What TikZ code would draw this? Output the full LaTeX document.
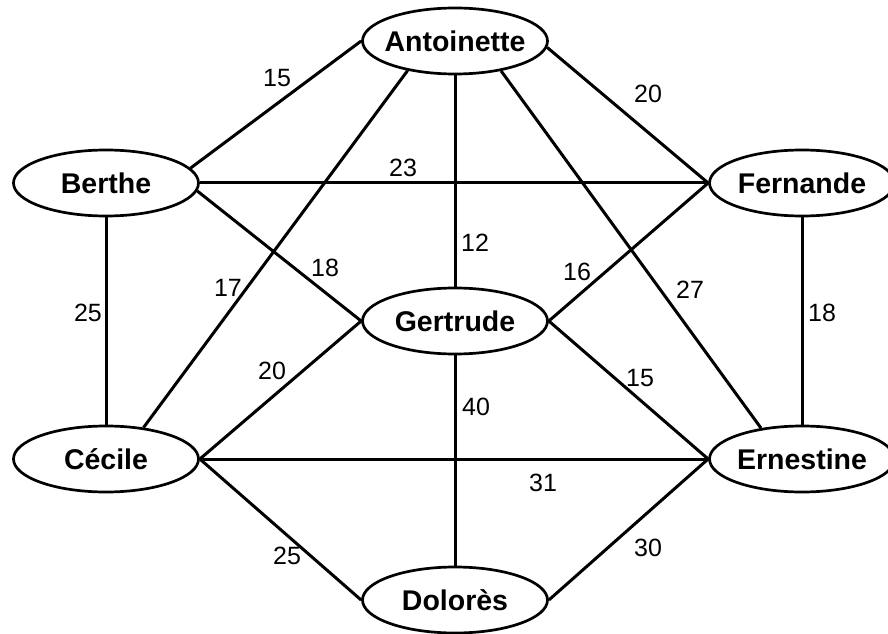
\documentclass[tikz,border=0pt]{standalone}
\usepackage{fontspec}
\setmainfont{Liberation Sans}
\usetikzlibrary{shapes.geometric}

\tikzset{
  person/.style={draw, ellipse, line width=2.7pt, minimum width=185pt, minimum height=66pt,
    inner ysep=0pt, inner xsep=-12pt, font=\bfseries\fontsize{28.5}{32}\selectfont},
  link/.style={line width=3pt},
  wt/.style={inner sep=0pt, font=\fontsize{25}{28}\selectfont}
}

\begin{document}
\begin{tikzpicture}[x=1pt,y=1pt]
    \useasboundingbox (0,0) rectangle (888,633);

    % the seven people
    \node[person] (antoinette) at (455,592) {Antoinette};
    \node[person] (berthe)     at (106,450) {Berthe};
    \node[person] (fernande)   at (802,450) {Fernande};
    \node[person] (gertrude)   at (455,312) {Gertrude};
    \node[person] (cecile)     at (106,174) {Cécile};
    \node[person] (ernestine)  at (802,174) {Ernestine};
    \node[person] (dolores)    at (455,33)  {Dolorès};

    % links
    \draw[link] (berthe.10) -- (antoinette.west);
    \draw[link] (antoinette.-4) -- (fernande.west);
    \draw[link] (berthe.east) -- (fernande.west);
    \draw[link] (antoinette.south) -- (gertrude.north);
    \draw[link] (antoinette.212) -- (cecile.40);
    \draw[link] (antoinette.-33) -- (ernestine.143);
    \draw[link] (berthe.-5) -- (gertrude.west);
    \draw[link] (fernande.west) -- (gertrude.east);
    \draw[link] (berthe.south) -- (cecile.north);
    \draw[link] (fernande.south) -- (ernestine.north);
    \draw[link] (gertrude.west) -- (cecile.east);
    \draw[link] (gertrude.east) -- (ernestine.west);
    \draw[link] (gertrude.south) -- (dolores.north);
    \draw[link] (cecile.east) -- (ernestine.west);
    \draw[link] (cecile.east) -- (dolores.west);
    \draw[link] (ernestine.west) -- (dolores.east);

    % weights
    \node[wt] (w-ab) at (277,555) {15};
    \node[wt] (w-af) at (648,539) {20};
    \node[wt] (w-bf) at (403,465) {23};
    \node[wt] (w-ag) at (475,390) {12};
    \node[wt] (w-bg) at (325,365) {18};
    \node[wt] (w-fg) at (577,361) {16};
    \node[wt] (w-ac) at (228,345) {17};
    \node[wt] (w-ae) at (690,343) {27};
    \node[wt] (w-bc) at (88,320)  {25};
    \node[wt] (w-fe) at (822,320) {18};
    \node[wt] (w-gc) at (272,262) {20};
    \node[wt] (w-ge) at (640,255) {15};
    \node[wt] (w-gd) at (476,226) {40};
    \node[wt] (w-ce) at (543,150) {31};
    \node[wt] (w-cd) at (287,77)  {25};
    \node[wt] (w-ed) at (648,85)  {30};
\end{tikzpicture}
\end{document}
